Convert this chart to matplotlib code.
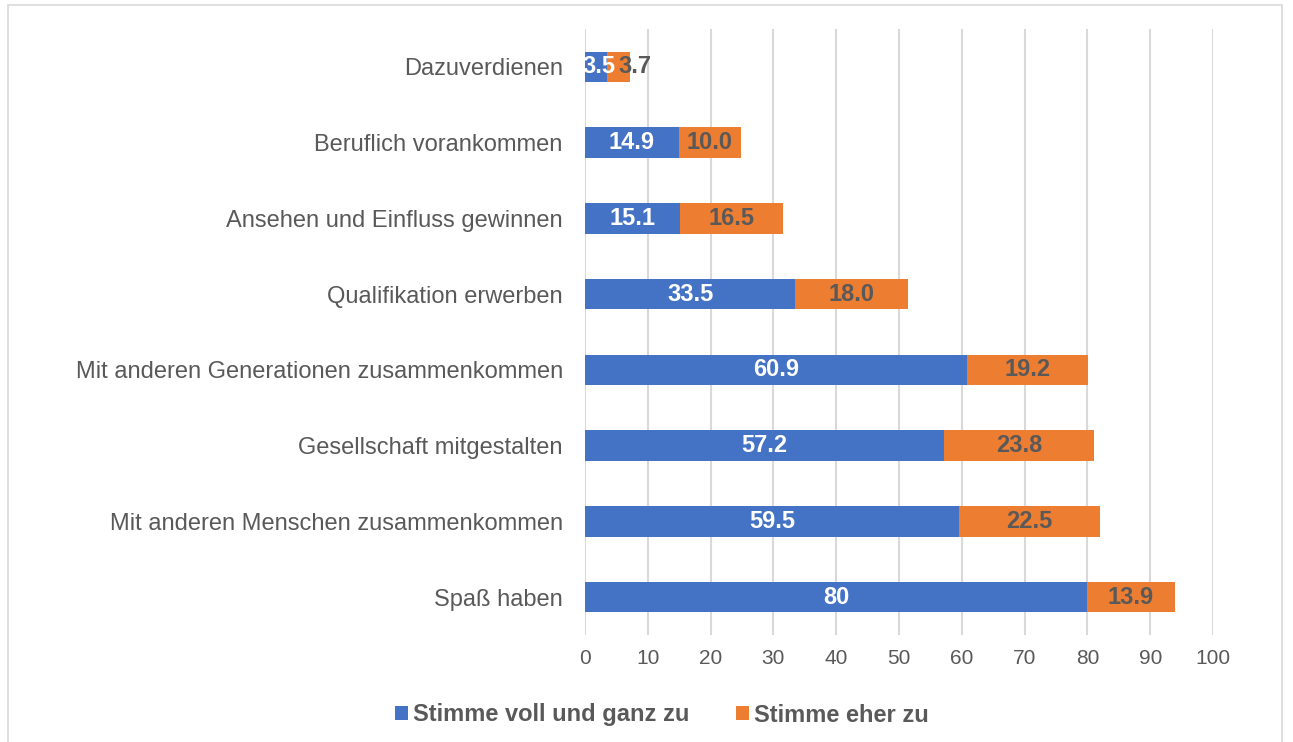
import matplotlib
matplotlib.use("Agg")
import matplotlib.pyplot as plt
from matplotlib.patches import Rectangle

plt.rcParams['font.family'] = ['Liberation Sans', 'DejaVu Sans']

categories = ["Spaß haben", "Mit anderen Menschen zusammenkommen", "Gesellschaft mitgestalten",
              "Mit anderen Generationen zusammenkommen", "Qualifikation erwerben",
              "Ansehen und Einfluss gewinnen", "Beruflich vorankommen", "Dazuverdienen"]
voll = [80, 59.5, 57.2, 60.9, 33.5, 15.1, 14.9, 3.5]
eher = [13.9, 22.5, 23.8, 19.2, 18.0, 16.5, 10.0, 3.7]
voll_labels = ["80", "59.5", "57.2", "60.9", "33.5", "15.1", "14.9", "3.5"]
eher_labels = ["13.9", "22.5", "23.8", "19.2", "18.0", "16.5", "10.0", "3.7"]
xticks = [0, 10, 20, 30, 40, 50, 60, 70, 80, 90, 100]

blue = "#4472C4"
orange = "#ED7D31"
gray = "#595959"

fig = plt.figure(figsize=(12.93, 7.42), dpi=100)
fig.patches.append(Rectangle((8/1293, -0.01), 1282/1293 - 8/1293, 1 - 5/742 + 0.01,
                             transform=fig.transFigure, fill=False, edgecolor="#d9d9d9", lw=1.2))
ax = fig.add_axes([585/1293, 1 - 635/742, (1213 - 585)/1293, (635 - 29)/742])

y = list(range(len(categories)))
b1 = ax.barh(y, voll, height=0.4, color=blue, label="Stimme voll und ganz zu", zorder=3)
b2 = ax.barh(y, eher, left=voll, height=0.4, color=orange, label="Stimme eher zu", zorder=3)

lab = dict(fontsize=17, fontweight="bold", zorder=4, va="center")
for i in y:
    if eher[i] < 5:
        # tiny segments: labels pushed apart as in the original
        ax.annotate(voll_labels[i], xy=(voll[i] / 2, i), xytext=(2, 0), textcoords="offset points",
                    ha="center", color="white", **lab)
        ax.annotate(eher_labels[i], xy=(voll[i], i), xytext=(8, 0), textcoords="offset points",
                    ha="left", color=gray, **lab)
    else:
        ax.text(voll[i] / 2, i, voll_labels[i], ha="center", color="white", **lab)
        ax.text(voll[i] + eher[i] / 2, i, eher_labels[i], ha="center", color=gray, **lab)

ax.set_xlim(0, 100)
ax.set_ylim(-0.5, len(categories) - 0.5)
ax.set_xticks(xticks)
ax.set_yticks(y)
ax.set_yticklabels(categories)
ax.tick_params(axis="both", length=0, labelcolor=gray)
ax.tick_params(axis="y", pad=16, labelsize=17)
ax.tick_params(axis="x", pad=10, labelsize=15)
ax.grid(axis="x", color="#d9d9d9", lw=1.5, zorder=0)
for s in ax.spines.values():
    s.set_visible(False)

fig.legend(handles=[b1, b2], loc="center", bbox_to_anchor=(662/1293, 1 - 715/742), ncol=2,
           frameon=False, prop={"size": 17, "weight": "bold"}, labelcolor=gray,
           handlelength=0.55, handleheight=0.55, handletextpad=0.2, columnspacing=2.0)

fig.savefig("out.png", dpi=100)
